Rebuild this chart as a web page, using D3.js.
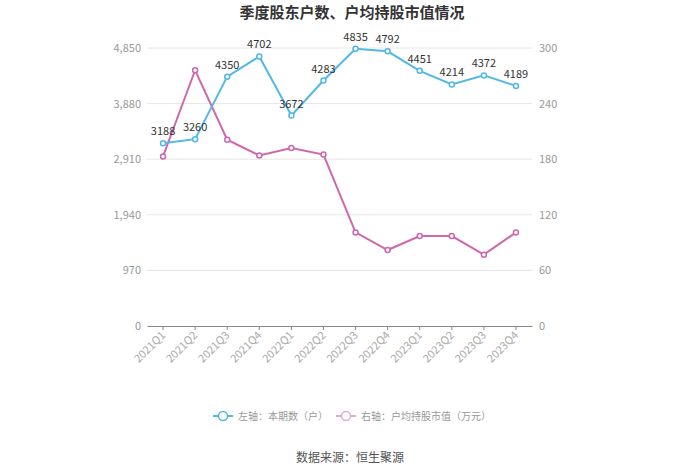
<!DOCTYPE html>
<html><head><meta charset="utf-8">
<script src="https://cdn.jsdelivr.net/npm/d3@7/dist/d3.min.js"></script>
<style>body{margin:0;background:#fff;}svg{display:block;font-family:"Noto Sans CJK SC","Noto Sans",sans-serif;}</style>
</head><body>
<svg id="c" width="700" height="474"></svg>
<script>
const categories = ["2021Q1","2021Q2","2021Q3","2021Q4","2022Q1","2022Q2","2022Q3","2022Q4","2023Q1","2023Q2","2023Q3","2023Q4"];
const holders = [3188,3260,4350,4702,3672,4283,4835,4792,4451,4214,4372,4189];
const avgValue = [183,276,201,184,192,185,101,82,97,97,77,101];
const leftTicks = [0,970,1940,2910,3880,4850];
const rightTicks = [0,60,120,180,240,300];
const title = "季度股东户数、户均持股市值情况";
const legendLabels = ["左轴：本期数（户）","右轴：户均持股市值（万元）"];
const source = "数据来源：恒生聚源";

const blue = "#52b8e8", pink = "#cf67ab";
const svg = d3.select("#c");
const x0 = 147, x1 = 532, yTop = 48, yBot = 326;
const x = d3.scaleBand().domain(categories).range([x0, x1]);
const yL = d3.scaleLinear().domain([0,4850]).range([yBot, yTop]);
const yR = d3.scaleLinear().domain([0,300]).range([yBot, yTop]);
const cx = d => x(d) + x.bandwidth()/2;

svg.append("text").attr("x",352).attr("y",18).attr("text-anchor","middle")
  .attr("font-size",15).attr("font-weight","bold").attr("fill","#333").text(title);

// grid
svg.append("g").selectAll("line").data(leftTicks.slice(1)).join("line")
  .attr("x1",x0).attr("x2",x1).attr("y1",d=>yL(d)).attr("y2",d=>yL(d))
  .attr("stroke","#e6e6e6").attr("stroke-width",1);

// axis labels
svg.append("g").selectAll("text").data(leftTicks).join("text")
  .attr("x",141).attr("y",d=>yL(d)+4).attr("text-anchor","end")
  .attr("font-size",11).attr("fill","#999").text(d=>d3.format(",")(d));
svg.append("g").selectAll("text").data(rightTicks).join("text")
  .attr("x",539).attr("y",d=>yR(d)+4).attr("text-anchor","start")
  .attr("font-size",11).attr("fill","#999").text(d=>d);

// x axis
const xa = svg.append("g").attr("transform",`translate(0,${yBot})`)
  .call(d3.axisBottom(x).tickSize(4).tickSizeOuter(0));
xa.select(".domain").attr("stroke","#888");
xa.selectAll(".tick line").attr("stroke","#888");
xa.selectAll(".tick text").attr("font-size",11).attr("fill","#aaa")
  .attr("font-family","'Noto Sans CJK SC','Noto Sans',sans-serif")
  .attr("text-anchor","end").attr("dy",null).attr("y",0)
  .attr("transform","translate(3,10) rotate(-45)");

// lines
function series(data, y, color, labels){
  const g = svg.append("g");
  g.append("path").datum(data).attr("fill","none").attr("stroke",color).attr("stroke-width",2)
    .attr("d", d3.line().x((d,i)=>cx(categories[i])).y(d=>y(d)));
  g.selectAll("circle").data(data).join("circle")
    .attr("cx",(d,i)=>cx(categories[i])).attr("cy",d=>y(d)).attr("r",2.5)
    .attr("fill","#fff").attr("stroke",color).attr("stroke-width",1.5);
  if(labels){
    g.selectAll("text").data(data).join("text")
      .attr("x",(d,i)=>cx(categories[i])).attr("y",d=>y(d)-8).attr("text-anchor","middle")
      .attr("font-size",11).attr("fill","#333").text(d=>d);
  }
}
series(avgValue, yR, pink, false);
series(holders, yL, blue, true);

// legend
const leg = [{c:blue,x:213,t:legendLabels[0],o:1},{c:pink,x:336,t:legendLabels[1],o:0.55}];
leg.forEach(l=>{
  const g = svg.append("g").attr("opacity",l.o);
  g.append("line").attr("x1",l.x).attr("x2",l.x+20).attr("y1",416).attr("y2",416).attr("stroke",l.c).attr("stroke-width",2);
  g.append("circle").attr("cx",l.x+10).attr("cy",416).attr("r",4.5).attr("fill","#fff").attr("stroke",l.c).attr("stroke-width",1.5);
  svg.append("text").attr("x",l.x+25).attr("y",420).attr("font-size",10).attr("fill","#999").text(l.t);
});
svg.append("text").attr("x",350).attr("y",462).attr("text-anchor","middle").attr("font-size",12).attr("fill","#555").text(source);
</script>
</body></html>
